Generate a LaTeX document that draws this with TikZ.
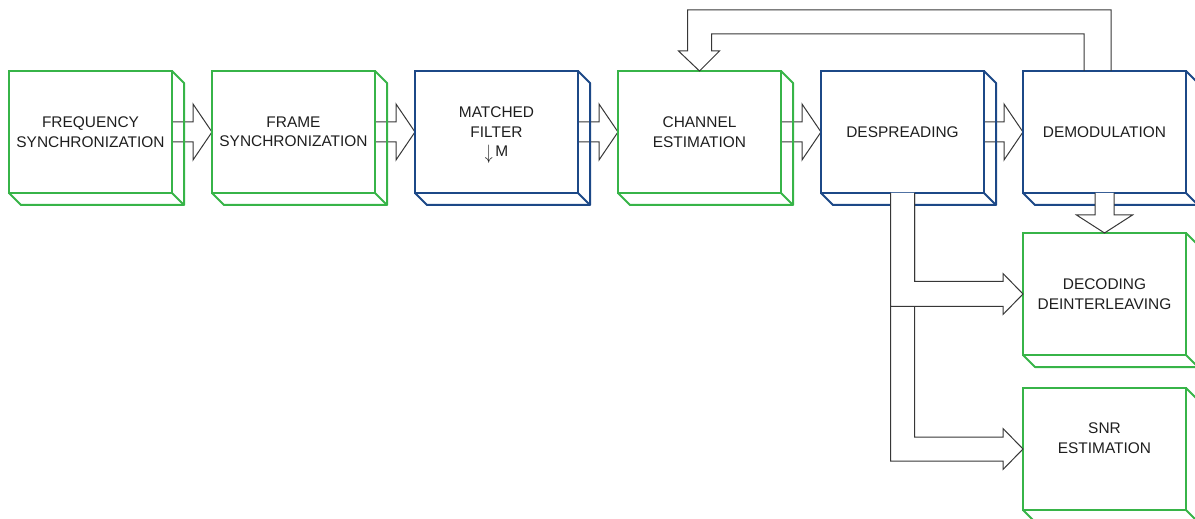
\documentclass[tikz,border=0pt]{standalone}
\usepackage{fontspec}
\setmainfont{Liberation Sans}
\usetikzlibrary{calc}
\definecolor{bgreen}{RGB}{55,180,72}
\definecolor{bblue}{RGB}{28,72,135}
\definecolor{txt}{RGB}{30,30,30}
\definecolor{arrline}{RGB}{55,55,55}
\tikzset{
  blk/.style={rectangle, minimum width=163bp, minimum height=122bp, inner sep=0pt,
    outer sep=0pt, line width=2bp, draw=#1, align=center,
    font=\fontsize{15.5}{19.5}\selectfont, text=txt},
  fat/.style={draw=arrline, line width=1bp, fill=white, line join=miter},
  side/.style={draw=#1, line width=2bp, line join=round},
}
\newcommand{\blkdepth}[2]{%
  \draw[side=#2] (#1.north east) -- ++(12,12) -- ($(#1.south east)+(12,12)$)
     -- ($(#1.south west)+(12,12)$) -- (#1.south west);
  \draw[side=#2] (#1.south east) -- ++(12,12);}
\newcommand{\harr}[2]{%
  \draw[fat] ($(#1.east)+(0,-10)$) -- ($(#2.west)+(-19,-10)$) -- ($(#2.west)+(-19,-28)$)
     -- (#2.west) -- ($(#2.west)+(-19,28)$) -- ($(#2.west)+(-19,10)$)
     -- ($(#1.east)+(0,10)$) -- cycle;}
\begin{document}
\begin{tikzpicture}[x=1bp,y=-1bp]
\useasboundingbox (0,0) rectangle (1195,519);
% node positions (centres)
\path (90.5,132) coordinate (p1) (293.5,132) coordinate (p2) (496.5,132) coordinate (p3)
      (699.5,132) coordinate (p4) (902.5,132) coordinate (p5) (1104.5,132) coordinate (p6)
      (1104.5,294) coordinate (p7) (1104.5,449) coordinate (p8);
% invisible placeholders to get anchors for arrows first
\node[blk=bgreen, draw=none] (B1) at (p1) {};
\node[blk=bgreen, draw=none] (B2) at (p2) {};
\node[blk=bblue, draw=none] (B3) at (p3) {};
\node[blk=bgreen, draw=none] (B4) at (p4) {};
\node[blk=bblue, draw=none] (B5) at (p5) {};
\node[blk=bblue, draw=none] (B6) at (p6) {};
% horizontal block arrows (behind boxes)
\harr{B1}{B2}
\harr{B2}{B3}
\harr{B3}{B4}
\harr{B4}{B5}
\harr{B5}{B6}
% boxes
\node[blk=bgreen] (F1) at (p1) {FREQUENCY\\SYNCHRONIZATION};
\node[blk=bgreen] (F2) at (p2) {FRAME\\SYNCHRONIZATION};
\node[blk=bblue] (F3) at (p3) {MATCHED\\FILTER\\\raisebox{-2.5pt}[0pt][0pt]{\scalebox{1.1}[1.45]{$\downarrow$}}\,M\hspace{14pt}};
\node[blk=bgreen] (F4) at (p4) {CHANNEL\\ESTIMATION};
\node[blk=bblue] (F5) at (p5) {DESPREADING};
\node[blk=bblue] (F6) at (p6) {DEMODULATION};
\node[blk=bgreen] (F7) at (p7) {DECODING\\DEINTERLEAVING};
\node[blk=bgreen] (F8) at (p8) {SNR\\ESTIMATION\\[2pt]};
\blkdepth{F1}{bgreen}
\blkdepth{F2}{bgreen}
\blkdepth{F3}{bblue}
\blkdepth{F4}{bgreen}
\blkdepth{F5}{bblue}
\blkdepth{F6}{bblue}
\blkdepth{F7}{bgreen}
\blkdepth{F8}{bgreen}
% branch arrows from despreading
\coordinate (vr) at ($(F5.south)+(12,0)$);
\coordinate (vl) at ($(F5.south)+(-12,0)$);
\coordinate (sT) at ($(F8.west)+(-20,-12)$);
\coordinate (sB) at ($(F8.west)+(-20,12)$);
\coordinate (dT) at ($(F7.west)+(-20,-12.5)$);
\coordinate (dB) at ($(F7.west)+(-20,12.5)$);
\draw[fat] (vr) -- (vr |- sT) -- (sT) -- ($(F8.west)+(-20,-20.5)$) -- (F8.west)
   -- ($(F8.west)+(-20,20.5)$) -- (sB) -- (vl |- sB) -- (vl);
\draw[fat] (vr) -- (vr |- dT) -- (dT) -- ($(F7.west)+(-20,-20.5)$) -- (F7.west)
   -- ($(F7.west)+(-20,20.5)$) -- (dB) -- (vl |- dB) -- (vl);
% down arrow demodulation -> decoding
\draw[fat] ($(F6.south)+(-9.5,0)$) -- ($(F7.north)+(-9.5,-18)$) -- ($(F7.north)+(-28,-18)$)
   -- (F7.north) -- ($(F7.north)+(28,-18)$) -- ($(F7.north)+(9.5,-18)$) -- ($(F6.south)+(9.5,0)$);
% feedback arrow demodulation -> channel estimation
\coordinate (fo) at ($(F6.north)+(6.5,0)$);
\coordinate (fi) at ($(F6.north)+(-20.5,0)$);
\draw[fat, fill=none] (fi) -- ++(0,-37) -| ($(F4.north)+(12,-20)$) -- ++(8,0) -- (F4.north)
   -- ($(F4.north)+(-21,-20)$) -- ++(9,0) |- ($(fo)+(0,-61)$) -- (fo);
\end{tikzpicture}
\end{document}
